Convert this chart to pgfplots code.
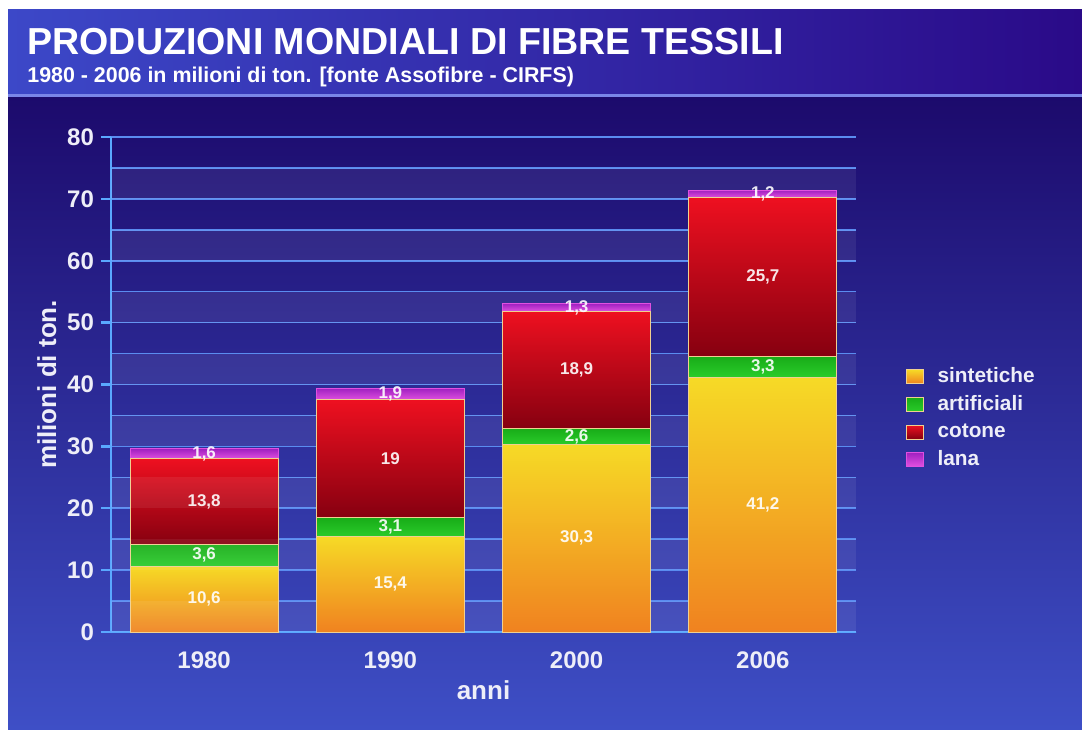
\documentclass[border=0pt]{standalone}
\usepackage{pgfplots}
\pgfplotsset{compat=1.18}
\usepackage{pgfplotstable}
\usepackage{fontspec}
\setmainfont{Liberation Sans}

\definecolor{bgtop}{HTML}{1C0A6C}
\definecolor{bgbot}{HTML}{3E4FC6}
\definecolor{ttlL}{HTML}{3C48C8}
\definecolor{ttlR}{HTML}{2A0A88}
\definecolor{sepline}{HTML}{7A86E8}
\definecolor{axisblue}{HTML}{5AA8FF}
\definecolor{gridblue}{HTML}{5A8CF0}
\definecolor{labwhite}{HTML}{EEEEF8}
\definecolor{sintT}{HTML}{F6DA26}
\definecolor{sintB}{HTML}{F08220}
\definecolor{artT}{HTML}{18AC18}
\definecolor{artB}{HTML}{2ACC2A}
\definecolor{cotT}{HTML}{EE1020}
\definecolor{cotB}{HTML}{860010}
\definecolor{lanT}{HTML}{A020C0}
\definecolor{lanB}{HTML}{E050E0}
\definecolor{bardraw}{HTML}{F0D090}

% one table per series, rows = years (0:1980, 1:1990, 2:2000, 3:2006)
\pgfplotstableread{
x v
0 10.6
1 15.4
2 30.3
3 41.2
}\sint
\pgfplotstableread{
x v
0 3.6
1 3.1
2 2.6
3 3.3
}\arti
\pgfplotstableread{
x v
0 13.8
1 19
2 18.9
3 25.7
}\coto
\pgfplotstableread{
x v
0 1.6
1 1.9
2 1.3
3 1.2
}\lana

\pgfplotsset{
  basestyle/.style={
    at={(55.5pt,48.5pt)}, anchor=south west,
    scale only axis, width=372.5pt, height=247.5pt,
    xmin=-0.5, xmax=3.5, ymin=0, ymax=80,
    ybar stacked, bar width=0.794,
    /pgf/number format/assume math mode=true,
    /pgf/number format/use comma,
    nodes near coords,
    point meta=\thisrow{v},
    every node near coord/.style={anchor=center,
      font=\bfseries\fontsize{8.5}{10}\selectfont, text=white, opacity=0.9},
  },
  sintsty/.style={top color=sintT, bottom color=sintB, draw=bardraw, line width=0.5pt},
  artsty/.style={top color=artT, bottom color=artB, draw=bardraw, line width=0.5pt},
  cotsty/.style={top color=cotT, bottom color=cotB, draw=bardraw, line width=0.5pt},
  lansty/.style={top color=lanT, bottom color=lanB, draw=lanB, line width=0.5pt},
}

\newcommand{\yearstack}[1]{%
  \addplot[sintsty, restrict x to domain=#1:#1] table[x=x,y=v]{\sint};
  \addplot[artsty, restrict x to domain=#1:#1] table[x=x,y=v]{\arti};
  \addplot[cotsty, restrict x to domain=#1:#1] table[x=x,y=v]{\coto};
  \addplot[lansty, restrict x to domain=#1:#1] table[x=x,y=v]{\lana};
}

\begin{document}
\begin{tikzpicture}
\useasboundingbox (0,0) rectangle (541pt,364.5pt);
\fill[white] (0,0) rectangle (541pt,364.5pt);
\shade[top color=bgtop, bottom color=bgbot] (4pt,0) rectangle (541pt,316.5pt);
\shade[left color=ttlL, right color=ttlR] (4pt,316.5pt) rectangle (541pt,359.5pt);
\draw[sepline, line width=1.2pt] (4pt,316.8pt) -- (541pt,316.8pt);
\node[anchor=base west, text=white, font=\bfseries\fontsize{18.8}{20}\selectfont, inner sep=0pt] at (13.5pt,337pt) {PRODUZIONI MONDIALI DI FIBRE TESSILI};
\node[anchor=base west, text=white, font=\bfseries\fontsize{10.7}{12}\selectfont, inner sep=0pt] at (13.5pt,323pt) {1980 - 2006 in milioni di ton. [fonte Assofibre - CIRFS)};

\begin{axis}[
  basestyle,
  axis lines*=left,
  axis line style={axisblue, line width=1.3pt},
  xtick={0,1,2,3}, xticklabels={1980,1990,2000,2006},
  xtick style={draw=none},
  ytick={0,10,...,80}, minor ytick={5,15,...,75},
  ytick style={axisblue, line width=1.2pt},
  major tick length=5pt, minor tick length=0pt,
  tick align=outside,
  ymajorgrids, yminorgrids,
  major grid style={gridblue, line width=0.8pt},
  minor grid style={gridblue, line width=0.8pt},
  tick label style={font=\bfseries\fontsize{12}{14}\selectfont, text=labwhite},
  xticklabel style={anchor=center, yshift=-9pt},
  xlabel={anni}, ylabel={milioni di ton.},
  label style={font=\bfseries\fontsize{13}{15}\selectfont, text=labwhite},
  xlabel style={at={(axis description cs:0.5,-0.117)}, anchor=center},
  ylabel style={at={(axis description cs:-0.086,0.5)}, anchor=center},
  legend style={at={(1.066,0.543)}, anchor=north west, draw=none, fill=none,
    text=labwhite, font=\bfseries\fontsize{10.4}{12}\selectfont, row sep=1pt, inner sep=0pt,
    /tikz/every odd column/.append style={column sep=5pt}},
  legend cell align=left,
  legend image code/.code={\draw[#1] (0pt,-3.5pt) rectangle (8.5pt,3.5pt);},
]
\pgfplotsinvokeforeach{0,10,20,30,40,50,60,70}{
  \fill[white, opacity=0.07] (axis cs:-0.5,#1) rectangle ([yshift=15.46875pt]axis cs:3.5,#1);
}
\pgfplotsinvokeforeach{-0.5,0.5,1.5,2.5,3.5}{
  \draw[axisblue, line width=1.2pt] (axis cs:#1,0) -- ([yshift=-5pt]axis cs:#1,0);
}
\yearstack{0}
\legend{sintetiche,artificiali,cotone,lana}
\end{axis}

\begin{axis}[basestyle, hide axis]
\yearstack{1}
\end{axis}
\begin{axis}[basestyle, hide axis]
\yearstack{2}
\end{axis}
\begin{axis}[basestyle, hide axis]
\yearstack{3}
\end{axis}
\end{tikzpicture}
\end{document}
